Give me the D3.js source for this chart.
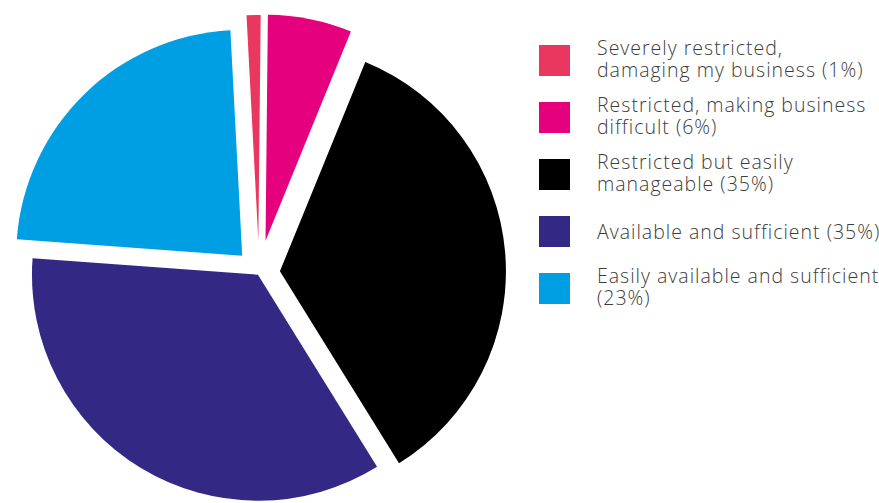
<!DOCTYPE html>
<html>
<head>
<meta charset="utf-8">
<script src="https://cdn.jsdelivr.net/npm/d3@7"></script>
<style>
  html, body { margin: 0; padding: 0; background: #fff; }
  svg { display: block; }
</style>
</head>
<body>
<svg id="chart" width="879" height="503"></svg>
<script>
// Survey answers: how restricted is access to finance for the business
const categories = [
  ["Severely restricted,", "damaging my business"],
  ["Restricted, making business", "difficult"],
  ["Restricted but easily", "manageable"],
  ["Available and sufficient"],
  ["Easily available and sufficient", ""]
];
const values = [1, 6, 35, 35, 23];   // percent of respondents
const colors = ["#e9375f", "#e5007e", "#000000", "#332883", "#009fe3"];

// How far each wedge is pulled out from the pie centre (px)
const explode = [32, 33, 21, 2, 24];

const svg = d3.select("#chart");
const cx = 259, cy = 273, radius = 226;
const rotation = -3 * Math.PI / 180;

const pie = d3.pie()
  .sort(null)
  .value(d => d)
  .startAngle(rotation)
  .endAngle(rotation + 2 * Math.PI);

const arc = d3.arc().innerRadius(0).outerRadius(radius);

const slices = pie(values);

svg.append("g")
  .attr("transform", `translate(${cx},${cy})`)
  .selectAll("path")
  .data(slices)
  .join("path")
  .attr("d", arc)
  .attr("fill", (d, i) => colors[i])
  .attr("transform", (d, i) => {
    const mid = (d.startAngle + d.endAngle) / 2;
    const dx = explode[i] * Math.sin(mid);
    const dy = -explode[i] * Math.cos(mid);
    return `translate(${dx},${dy})`;
  });

// Legend
const legendX = 539, legendTop = 45, legendStep = 57, swatch = 31;
const textX = 597, lineHeight = 22.6;

const legend = svg.append("g")
  .selectAll("g")
  .data(categories)
  .join("g")
  .attr("transform", (d, i) => `translate(0,${legendTop + i * legendStep})`);

legend.append("rect")
  .attr("x", legendX)
  .attr("y", 0)
  .attr("width", swatch)
  .attr("height", swatch)
  .attr("fill", (d, i) => colors[i]);

legend.append("text")
  .attr("font-family", "'Open Sans', 'Noto Sans', sans-serif")
  .attr("font-weight", 300)
  .attr("font-size", 19.5)
  .attr("letter-spacing", 1)
  .attr("fill", "#3c3c3c")
  .each(function (lines, i) {
    const text = d3.select(this);
    const labelLines = lines.slice();
    const last = labelLines.length - 1;
    labelLines[last] = (labelLines[last] + ` (${values[i]}%)`).trim();
    const firstBaseline = swatch / 2 + 7 - (labelLines.length - 1) * 12.8;
    labelLines.forEach((line, k) => {
      text.append("tspan")
        .attr("x", textX)
        .attr("y", firstBaseline + k * lineHeight)
        .text(line);
    });
  });
</script>
</body>
</html>
